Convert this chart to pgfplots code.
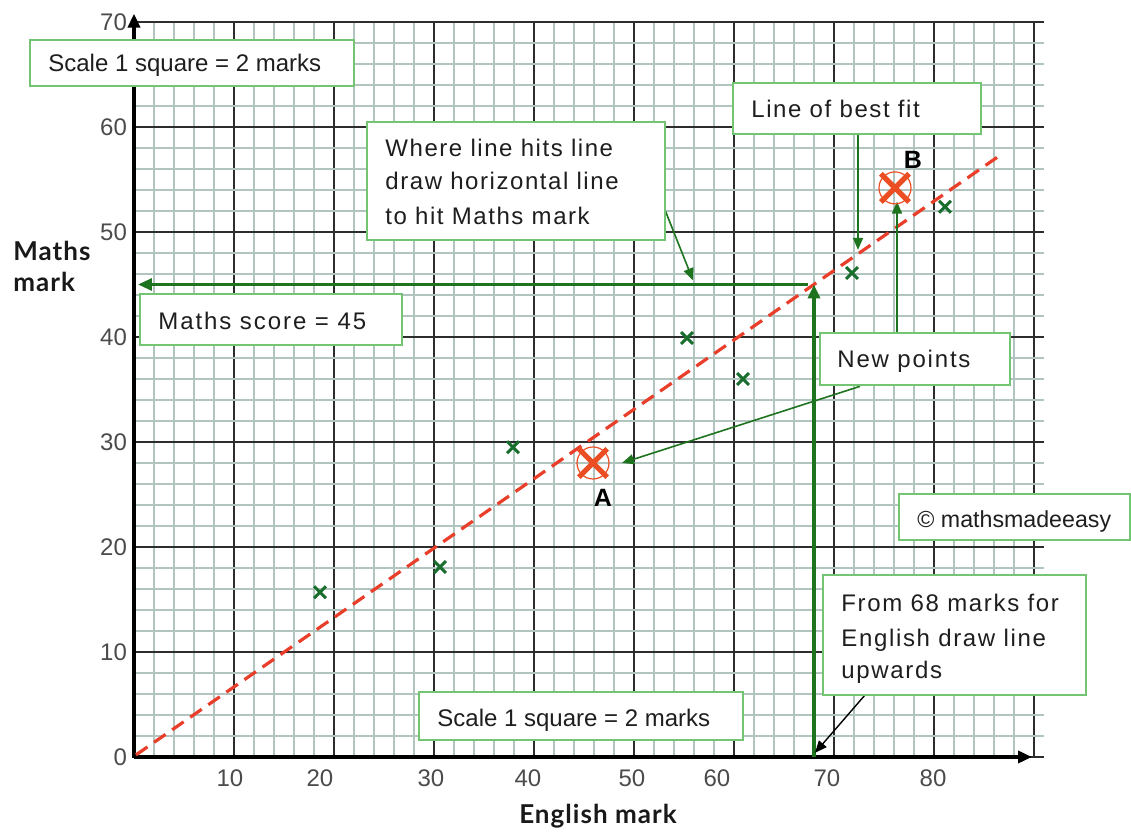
\documentclass[border=0pt]{standalone}
\usepackage{pgfplots}
\pgfplotsset{compat=1.18}
\usepackage{fontspec}
\setmainfont{Liberation Sans}
\newfontfamily\handfont{Lato}
\usetikzlibrary{arrows.meta}

\definecolor{majgrid}{RGB}{45,45,45}
\definecolor{mingrid}{RGB}{178,196,192}
\definecolor{ptgreen}{RGB}{25,110,45}
\definecolor{guide}{RGB}{30,115,30}
\definecolor{fitred}{RGB}{232,62,42}
\definecolor{newred}{RGB}{236,78,36}
\definecolor{boxgreen}{RGB}{115,196,115}
\definecolor{ticktext}{RGB}{75,75,75}
\definecolor{boxtext}{RGB}{30,30,30}

\tikzset{
  notebox/.style={draw=boxgreen, line width=0.9pt, fill=white},
  notetext/.style={anchor=base west, inner sep=0pt, text=boxtext,
    font=\fontsize{12}{14}\selectfont},
  guidearrow/.style={-{Triangle[length=6pt,width=5pt]}},
}

\begin{document}
\begin{tikzpicture}
\useasboundingbox (-67pt,-38.5pt) rectangle (498.5pt,378.5pt);
\begin{axis}[
  scale only axis, width=455pt, height=367.5pt,
  xmin=0, xmax=91, ymin=0, ymax=70,
  clip=false,
  axis line style={draw=none},
  xtick={0,10,...,90}, ytick={0,10,...,70},
  minor x tick num=4, minor y tick num=4,
  grid=both,
  major grid style={line width=1pt, draw=majgrid},
  minor grid style={line width=0.75pt, draw=mingrid},
  major tick length=0pt, minor tick length=0pt,
  xticklabels={},
  extra x ticks={9.6,18.6,29.7,39.4,49.8,58.3,69.3,79.9},
  extra x tick labels={10,20,30,40,50,60,70,80},
  extra x tick style={grid=none, major tick length=0pt},
  tick label style={font=\fontsize{12}{14}\selectfont, text=ticktext},
  x tick label style={yshift=-3pt},
  /pgf/number format/assume math mode=true,
]
% axes
\draw[line width=1.8pt, -{Triangle[length=7pt,width=6pt]}] (axis cs:0,0) -- (axis cs:89.8,0);
\draw[line width=2pt, -{Triangle[length=7pt,width=6pt]}] (axis cs:0,-0.1) -- (axis cs:0,70.8);

% line of best fit
\addplot[fitred, line width=1.6pt, dash pattern=on 7pt off 4pt] coordinates {(0.2,0.2) (86.6,57.3)};

% reading 68 marks for English across to the Maths mark
\addplot[guide, line width=1.9pt, -{Triangle[length=7pt,width=6pt]}] coordinates {(68,0) (68,45)};
\addplot[guide, line width=1.5pt, -{Triangle[length=7pt,width=6pt]}] coordinates {(67.4,45) (0.4,45)};

% results
\addplot[only marks, mark=x, mark size=4.2pt, color=ptgreen, mark options={line width=1.5pt}]
  coordinates {(18.6,15.7) (30.6,18.1) (37.9,29.5) (55.3,39.9) (60.9,36.0) (71.8,46.1) (81.1,52.4)};

% new points A and B
\addplot[only marks, mark=o, mark size=8pt, mark options={draw=newred, line width=0.6pt, fill=newred!10}]
  coordinates {(45.9,28.0) (76.1,54.2)};
\addplot[only marks, mark=x, mark size=10pt, mark options={draw=newred, line width=2.6pt}]
  coordinates {(45.9,28.0) (76.1,54.2)};
\node[anchor=base, inner sep=0pt, font=\fontsize{12.5}{14}\selectfont\bfseries] at (axis cs:46.9,23.9) {A};
\node[anchor=base, inner sep=0pt, font=\fontsize{12.5}{14}\selectfont\bfseries] at (axis cs:77.9,56.0) {B};

% annotation arrows
\draw[guide, line width=0.8pt, guidearrow] (axis cs:72.4,59.3) -- (axis cs:72.4,48.3);
\draw[guide, line width=0.8pt, guidearrow] (axis cs:76.3,40.2) -- (axis cs:76.3,52.9);
\draw[guide, line width=0.8pt, guidearrow] (axis cs:72.6,35.3) -- (axis cs:48.8,28.0);
\draw[guide, line width=0.8pt, guidearrow] (axis cs:53.1,52.1) -- (axis cs:55.9,45.4);
\draw[black, line width=0.7pt, guidearrow] (axis cs:73.1,5.9) -- (axis cs:68.1,0.4);

% notes
\draw[notebox] (axis cs:-10.4,68.29) rectangle (axis cs:22.0,63.9);
\node[notetext] at (axis cs:-8.6,65.27) {Scale 1 square = 2 marks};

\draw[notebox] (axis cs:23.3,60.48) rectangle (axis cs:53.1,49.24);
\node[notetext, font=\fontsize{12}{14}\selectfont\addfontfeature{LetterSpace=6.5}] at (axis cs:25.1,57.17) {Where line hits line};
\node[notetext, font=\fontsize{12}{14}\selectfont\addfontfeature{LetterSpace=6.5}] at (axis cs:25.1,54.0) {draw horizontal line};
\node[notetext, font=\fontsize{12}{14}\selectfont\addfontfeature{LetterSpace=6.5}] at (axis cs:25.1,50.76) {to hit Maths mark};

\draw[notebox] (axis cs:0.6,44.1) rectangle (axis cs:26.8,39.24);
\node[notetext, font=\fontsize{12}{14}\selectfont\addfontfeature{LetterSpace=8}] at (axis cs:2.4,40.76) {Maths score = 45};

\draw[notebox] (axis cs:59.9,64.19) rectangle (axis cs:84.7,59.33);
\node[notetext, font=\fontsize{12}{14}\selectfont\addfontfeature{LetterSpace=6.6}] at (axis cs:61.7,60.86) {Line of best fit};

\draw[notebox] (axis cs:68.6,40.38) rectangle (axis cs:87.6,35.43);
\node[notetext, font=\fontsize{12}{14}\selectfont\addfontfeature{LetterSpace=7.5}] at (axis cs:70.3,37.05) {New points};

\draw[notebox] (axis cs:76.5,25.05) rectangle (axis cs:99.6,20.67);
\node[notetext, font=\fontsize{11.6}{14}\selectfont] at (axis cs:78.3,21.9) {© mathsmadeeasy};

\draw[notebox] (axis cs:68.9,17.33) rectangle (axis cs:95.2,5.9);
\node[notetext, font=\fontsize{12}{14}\selectfont\addfontfeature{LetterSpace=6.9}] at (axis cs:70.7,13.81) {From 68 marks for};
\node[notetext, font=\fontsize{12}{14}\selectfont\addfontfeature{LetterSpace=6.9}] at (axis cs:70.7,10.48) {English draw line};
\node[notetext, font=\fontsize{12}{14}\selectfont\addfontfeature{LetterSpace=6.9}] at (axis cs:70.7,7.52) {upwards};

\draw[notebox] (axis cs:28.5,6.19) rectangle (axis cs:60.9,1.62);
\node[notetext] at (axis cs:30.3,2.95) {Scale 1 square = 2 marks};

% axis titles
\node[anchor=base west, inner sep=0pt, font=\handfont\bfseries\fontsize{13}{15}\selectfont\addfontfeature{LetterSpace=4}, text=black!90] at (axis cs:-12.1,47.33) {Maths};
\node[anchor=base west, inner sep=0pt, font=\handfont\bfseries\fontsize{13}{15}\selectfont\addfontfeature{LetterSpace=4}, text=black!90] at (axis cs:-12.1,44.29) {mark};
\node[anchor=base, inner sep=0pt, font=\handfont\bfseries\fontsize{13}{15}\selectfont\addfontfeature{LetterSpace=4}, text=black!90] at (axis cs:46.4,-6.29) {English mark};
\end{axis}
\end{tikzpicture}
\end{document}
